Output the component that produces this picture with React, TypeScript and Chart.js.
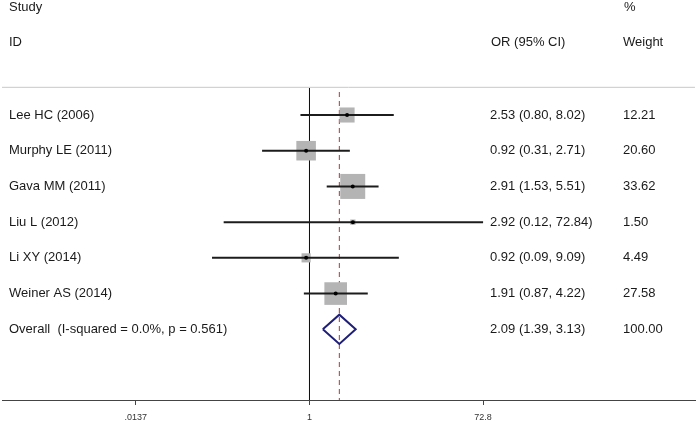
import React, { useEffect, useRef } from "react";
import { Chart, registerables } from "chart.js";

Chart.register(...registerables);

// ---- data ----
const studies = [
  "Lee HC (2006)",
  "Murphy LE (2011)",
  "Gava MM (2011)",
  "Liu L (2012)",
  "Li XY (2014)",
  "Weiner AS (2014)",
];
const orValues = [2.53, 0.92, 2.91, 2.92, 0.92, 1.91];
const ciLow = [0.8, 0.31, 1.53, 0.12, 0.09, 0.87];
const ciHigh = [8.02, 2.71, 5.51, 72.84, 9.09, 4.22];
const weights = [12.21, 20.6, 33.62, 1.5, 4.49, 27.58];
const ciText = [
  "2.53 (0.80, 8.02)",
  "0.92 (0.31, 2.71)",
  "2.91 (1.53, 5.51)",
  "2.92 (0.12, 72.84)",
  "0.92 (0.09, 9.09)",
  "1.91 (0.87, 4.22)",
];
const weightText = ["12.21", "20.60", "33.62", "1.50", "4.49", "27.58"];

const overallLabel = "Overall  (I-squared = 0.0%, p = 0.561)";
const overallOR = 2.09;
const overallLow = 1.39;
const overallHigh = 3.13;
const overallCiText = "2.09 (1.39, 3.13)";
const overallWeightText = "100.00";

const tickValues = [0.0137, 1, 72.8];
const tickLabels = [".0137", "1", "72.8"];

const headerStudy = ["Study", "ID"];
const headerOR = "OR (95% CI)";
const headerWeight = ["%", "Weight"];

// ---- layout constants ----
const X_MIN = Math.pow(10, -3.299);
const X_MAX = Math.pow(10, 4.136);
const Y_MIN = -3.22;
const Y_MAX = 7.98;
const ROW_HEADER1 = -3.02;
const ROW_HEADER2 = -2.04;
const ROW_SEP = -0.775;
const ROW_VLINE_TOP = -0.756;
const ROW_DASH_TOP = -0.644;
const DIAMOND_HALF = 0.41;
const BOX_SCALE = 4.31; // px side per sqrt(weight)
const FONT = '"Liberation Sans", Arial, sans-serif';
const COL_LABEL = 9;
const COL_OR = 490;
const COL_WEIGHT = 623;

const overallRow = studies.length;

const textPlugin = {
  id: "forestText",
  afterDatasetsDraw(chart: any) {
    const ctx = chart.ctx;
    const y = chart.scales.y;
    ctx.save();
    ctx.font = "13px " + FONT;
    ctx.fillStyle = "#1a1a1a";
    ctx.textBaseline = "middle";
    ctx.textAlign = "left";
    ctx.fillText(headerStudy[0], COL_LABEL, y.getPixelForValue(ROW_HEADER1));
    ctx.fillText(headerStudy[1], COL_LABEL, y.getPixelForValue(ROW_HEADER2));
    ctx.fillText(headerWeight[0], COL_WEIGHT + 1, y.getPixelForValue(ROW_HEADER1));
    ctx.fillText(headerWeight[1], COL_WEIGHT, y.getPixelForValue(ROW_HEADER2));
    ctx.fillText(headerOR, COL_OR + 1, y.getPixelForValue(ROW_HEADER2));
    studies.forEach((s, i) => {
      const py = y.getPixelForValue(i);
      ctx.fillText(s, COL_LABEL, py);
      ctx.fillText(ciText[i], COL_OR, py);
      ctx.fillText(weightText[i], COL_WEIGHT, py);
    });
    const po = y.getPixelForValue(overallRow);
    ctx.fillText(overallLabel, COL_LABEL, po);
    ctx.fillText(overallCiText, COL_OR, po);
    ctx.fillText(overallWeightText, COL_WEIGHT, po);
    ctx.restore();
  },
};

export default function App() {
  const ref = useRef<HTMLCanvasElement>(null);
  useEffect(() => {
    if (!ref.current) return;
    const datasets: any[] = [];
    // dots
    datasets.push({
      data: orValues.map((v, i) => ({ x: v, y: i })),
      pointRadius: 2,
      pointBackgroundColor: "#000",
      pointBorderWidth: 0,
      showLine: false,
      order: 0,
    });
    // CI lines
    studies.forEach((_, i) => {
      datasets.push({
        data: [
          { x: ciLow[i], y: i },
          { x: ciHigh[i], y: i },
        ],
        showLine: true,
        borderColor: "#1c1c1c",
        borderWidth: 2,
        pointRadius: 0,
        order: 1,
      });
    });
    // boxes
    datasets.push({
      data: orValues.map((v, i) => ({ x: v, y: i })),
      pointStyle: "rect",
      pointRadius: weights.map((w) => (BOX_SCALE * Math.sqrt(w)) / Math.SQRT2),
      pointBackgroundColor: "#b4b4b4",
      pointBorderWidth: 0,
      pointBorderColor: "rgba(0,0,0,0)",
      showLine: false,
      order: 2,
    });
    // diamond
    datasets.push({
      data: [
        { x: overallLow, y: overallRow },
        { x: overallOR, y: overallRow - DIAMOND_HALF },
        { x: overallHigh, y: overallRow },
        { x: overallOR, y: overallRow + DIAMOND_HALF },
        { x: overallLow, y: overallRow },
      ],
      showLine: true,
      borderColor: "#1f1f78",
      borderWidth: 2,
      pointRadius: 0,
      tension: 0,
      order: 3,
    });
    // dashed overall line
    datasets.push({
      data: [
        { x: overallOR, y: ROW_DASH_TOP },
        { x: overallOR, y: Y_MAX },
      ],
      showLine: true,
      borderColor: "#a83c3c",
      borderWidth: 1,
      borderDash: [5, 4],
      pointRadius: 0,
      order: 4,
    });
    // null line at 1
    datasets.push({
      data: [
        { x: 1, y: ROW_VLINE_TOP },
        { x: 1, y: Y_MAX },
      ],
      showLine: true,
      borderColor: "#111",
      borderWidth: 1,
      pointRadius: 0,
      order: 5,
    });
    // header separator
    datasets.push({
      data: [
        { x: X_MIN, y: ROW_SEP },
        { x: X_MAX, y: ROW_SEP },
      ],
      showLine: true,
      borderColor: "#c8c8c8",
      borderWidth: 1,
      pointRadius: 0,
      order: 6,
    });

    const chart = new Chart(ref.current, {
      type: "scatter",
      data: { datasets },
      options: {
        animation: false,
        responsive: false,
        devicePixelRatio: 1,
        events: [],
        layout: { autoPadding: false, padding: { left: 2, right: 2, top: 0, bottom: 0 } },
        plugins: {
          legend: { display: false },
          tooltip: { enabled: false },
        },
        scales: {
          x: {
            type: "logarithmic",
            min: X_MIN,
            max: X_MAX,
            afterBuildTicks: (s: any) => {
              s.ticks = tickValues.map((v) => ({ value: v }));
            },
            afterFit: (s: any) => {
              s.height = 21;
            },
            ticks: {
              autoSkip: false,
              maxRotation: 0,
              minRotation: 0,
              padding: 7,
              color: "#333",
              font: { size: 9, family: FONT },
              callback: (_v: any, i: number) => tickLabels[i],
            },
            grid: {
              display: true,
              drawOnChartArea: false,
              drawTicks: true,
              tickLength: 5,
              color: "#444",
            },
            border: { display: true, color: "#444", width: 1 },
          },
          y: {
            type: "linear",
            display: false,
            min: Y_MIN,
            max: Y_MAX,
            reverse: true,
          },
        },
      } as any,
      plugins: [textPlugin],
    });
    return () => chart.destroy();
  }, []);

  return (
    <div style={{ position: "fixed", left: 0, top: 0, width: 697, height: 421, background: "#fff" }}>
      <canvas ref={ref} width={697} height={421} style={{ width: 697, height: 421, display: "block" }} />
    </div>
  );
}
